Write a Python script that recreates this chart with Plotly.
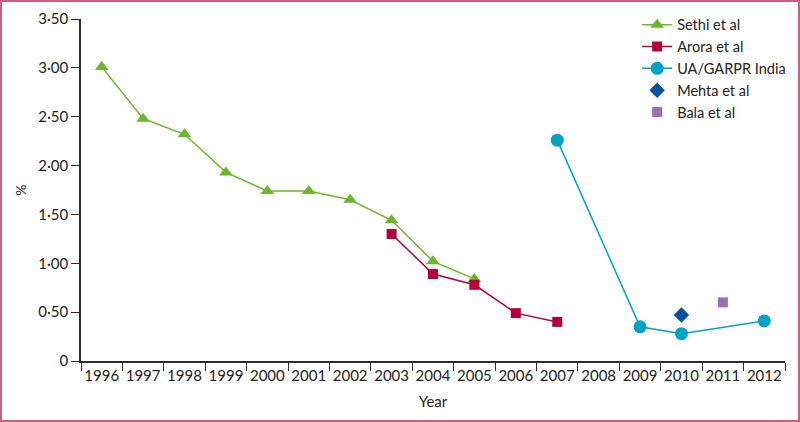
import plotly.graph_objects as go

years = [str(y) for y in range(1996, 2013)]

sethi_years = ["1996", "1997", "1998", "1999", "2000", "2001", "2002", "2003", "2004", "2005"]
sethi_vals = [3.01, 2.48, 2.32, 1.93, 1.74, 1.74, 1.65, 1.44, 1.02, 0.84]

arora_years = ["2003", "2004", "2005", "2006", "2007"]
arora_vals = [1.30, 0.89, 0.78, 0.49, 0.40]

garpr_years = ["2007", "2009", "2010", "2012"]
garpr_vals = [2.26, 0.35, 0.28, 0.41]

mehta_years = ["2010"]
mehta_vals = [0.47]

bala_years = ["2011"]
bala_vals = [0.60]

y_ticks = [0, 0.5, 1.0, 1.5, 2.0, 2.5, 3.0, 3.5]
y_labels = ["0", "0·50", "1·00", "1·50", "2·00", "2·50", "3·00", "3·50"]

FONT = "Lato"
AXIS = "#2b2b2b"

fig = go.Figure()
fig.add_trace(go.Scatter(x=sethi_years, y=sethi_vals, name="Sethi et al", mode="lines+markers",
                         line=dict(color="#6cb52d", width=1.5),
                         marker=dict(symbol="triangle-up", size=12, color="#6cb52d")))
fig.add_trace(go.Scatter(x=arora_years, y=arora_vals, name="Arora et al", mode="lines+markers",
                         line=dict(color="#b4003a", width=1.5),
                         marker=dict(symbol="square", size=10, color="#b4003a")))
fig.add_trace(go.Scatter(x=garpr_years, y=garpr_vals, name="UA/GARPR India", mode="lines+markers",
                         line=dict(color="#00a1c6", width=1.5),
                         marker=dict(symbol="circle", size=13, color="#00a1c6")))
fig.add_trace(go.Scatter(x=mehta_years, y=mehta_vals, name="Mehta et al", mode="markers",
                         marker=dict(symbol="diamond", size=12, color="#0a519e")))
fig.add_trace(go.Scatter(x=bala_years, y=bala_vals, name="Bala et al", mode="markers",
                         marker=dict(symbol="square", size=10, color="#9872b2")))

L, R, T, B = 81, 15, 19, 61
pw, ph = 800 - L - R, 422 - T - B

fig.update_xaxes(type="category", categoryorder="array", categoryarray=years,
                 tickson="boundaries", ticks="outside", ticklen=8, tickcolor=AXIS, tickangle=0,
                 showline=True, linecolor=AXIS, linewidth=1.5, showgrid=False, automargin=False,
                 tickfont=dict(size=15, color="#222"),
                 title=dict(text="Year", font=dict(size=15, color="#222"), standoff=14),
                 range=[-0.5, 16.5])
fig.update_yaxes(range=[0, 3.5], tickvals=y_ticks, ticktext=y_labels, ticks="outside", ticklen=8,
                 tickcolor=AXIS, showline=True, linecolor=AXIS, linewidth=1.5, showgrid=False, zeroline=False,
                 automargin=False, tickfont=dict(size=15, color="#222"),
                 title=dict(text="%", font=dict(size=14, color="#222"), standoff=8))

fig.add_shape(type="rect", xref="paper", yref="paper",
              x0=-(L - 1) / pw, x1=1 + (R - 1) / pw, y0=-(B - 1) / ph, y1=1 + (T - 1) / ph,
              line=dict(color="#c8617f", width=2))

fig.update_layout(width=800, height=422, margin=dict(l=L, r=R, t=T, b=B, autoexpand=False),
                  plot_bgcolor="white", paper_bgcolor="white",
                  font=dict(family=FONT, color="#222"),
                  legend=dict(x=0.79, y=1.03, xanchor="left", yanchor="top", font=dict(size=14.5),
                              tracegroupgap=0, itemwidth=30, bgcolor="rgba(0,0,0,0)"))

# remove the default page margin so the figure sits at the top-left corner
fig.write_html("out.html", config={"displayModeBar": False},
               post_script="document.body.style.margin='0';")
